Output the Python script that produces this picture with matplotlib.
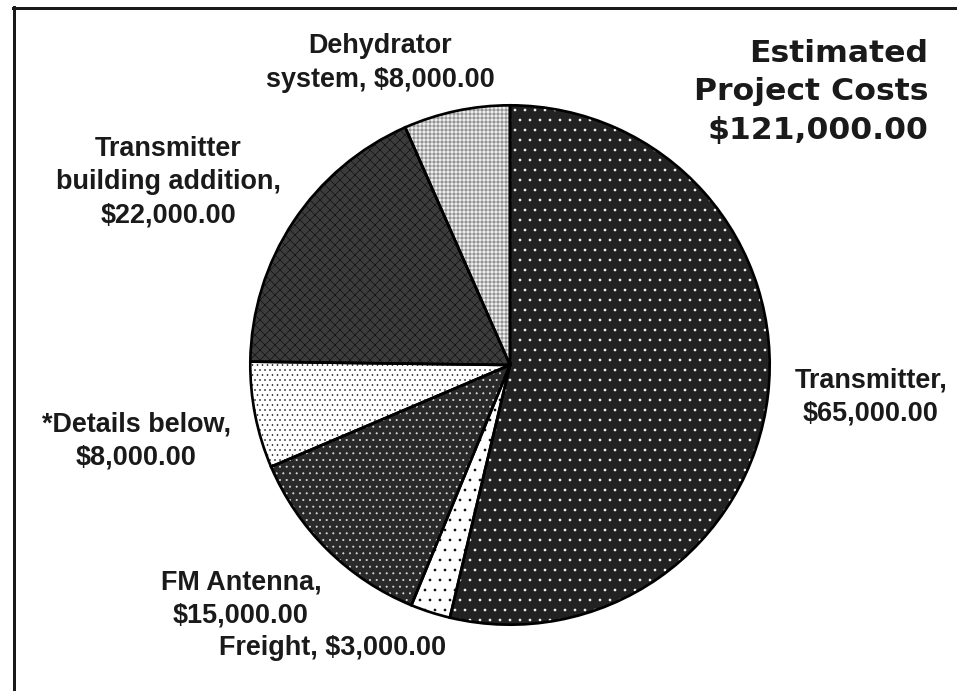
import matplotlib
matplotlib.use("Agg")
import matplotlib.pyplot as plt
from matplotlib.lines import Line2D

# Slices, clockwise from the top
categories = ["Transmitter", "Freight", "FM Antenna", "*Details below",
              "Transmitter building addition", "Dehydrator system"]
costs = [65000, 3000, 15000, 8000, 22000, 8000]
label_texts = ["Transmitter,\n$65,000.00",
               "Freight, $3,000.00",
               "FM Antenna,\n$15,000.00",
               "*Details below,\n$8,000.00",
               "Transmitter\nbuilding addition,\n$22,000.00",
               "Dehydrator\nsystem, $8,000.00"]
title_lines = ["Estimated", "Project Costs", "$121,000.00"]

# styles per slice: face colour, hatch, hatch colour
faces = ["#222222", "white", "#2a2a2a", "white", "#3c3c3c", "#eeeeee"]
hatches = ["..", "..", "...", "....", "xxxx", "+++++"]
hatch_cols = ["white", "black", "#dddddd", "#222222", "#111111", "#666666"]

W, H, DPI = 957, 691, 120
px = 72 / DPI  # points per pixel

plt.rcParams["hatch.linewidth"] = 0.4

fig = plt.figure(figsize=(W / DPI, H / DPI), dpi=DPI)
fig.patch.set_facecolor("white")

cx, cy, r = 510, 365, 261
ax = fig.add_axes([(cx - r) / W, (H - cy - r) / H, 2 * r / W, 2 * r / H])
ax.axis("off")

wedges, _ = ax.pie(costs, startangle=90, counterclock=False, radius=1,
                   wedgeprops=dict(linewidth=0))
for w, fc, hc, hcol in zip(wedges, faces, hatches, hatch_cols):
    w.set_facecolor(fc)
    w.set_edgecolor(hcol)
    w.set_hatch(hc)
    w.set_linewidth(0)

# outlines on top
ax.pie(costs, startangle=90, counterclock=False, radius=1,
       wedgeprops=dict(facecolor="none", edgecolor="black", linewidth=1.6))
ax.set_xlim(-1.005, 1.005)
ax.set_ylim(-1.005, 1.005)
ax.set_aspect("equal")

# slice labels (pixel positions of label centres)
label_pos = [(871, 397), (333, 648), (241, 599), (136, 441), (168, 182), (380, 63)]
for txt, (x, y) in zip(label_texts, label_pos):
    fig.text(x / W, 1 - y / H, txt, ha="center", va="center", ma="center",
             fontsize=27 * px, fontweight="bold", family="Liberation Sans",
             color="#1a1a1a", linespacing=1.36)

# title block
fig.text(928 / W, 1 - 92 / H, "\n".join(title_lines), ha="right", va="center",
         ma="right", fontsize=31.5 * px, fontweight="bold", family="DejaVu Sans",
         color="#1a1a1a", linespacing=1.4)

# frame: top and left edges only
fig.add_artist(Line2D([13 / W, 1.0], [1 - 8 / H, 1 - 8 / H],
                      transform=fig.transFigure, color="#1a1a1a", linewidth=3 * px))
fig.add_artist(Line2D([14 / W, 14 / W], [1 - 7 / H, 0.0],
                      transform=fig.transFigure, color="#1a1a1a", linewidth=3 * px))

fig.savefig("out.png", dpi=DPI)
